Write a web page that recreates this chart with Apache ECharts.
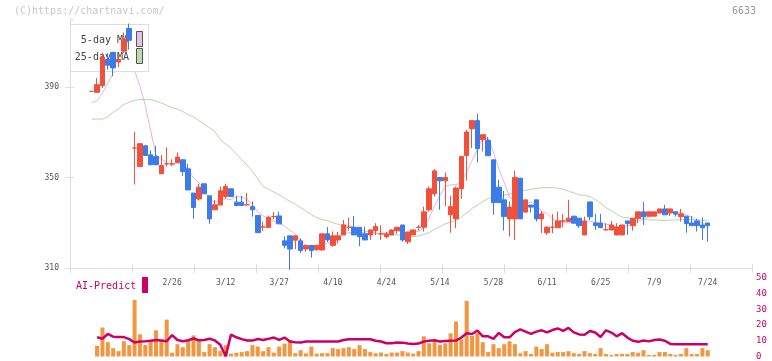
<!DOCTYPE html>
<html>
<head>
<meta charset="utf-8">
<script src="https://cdn.jsdelivr.net/npm/echarts@6/dist/echarts.min.js"></script>
<style>
  html, body { margin: 0; padding: 0; background: #fff; }
  #chart { width: 772px; height: 361px; }
</style>
</head>
<body>
<div id="chart"></div>
<script>
// daily candles, oldest first
const opens = [388.0, 387.6, 390.6, 402.1, 405.3, 401.0, 405.8, 415.8, 363.0, 354.8,
  364.0, 360.0, 359.3, 351.6, 356.0, 356.0, 356.6, 357.8, 353.8, 343.1,
  340.5, 347.2, 341.9, 335.7, 337.8, 341.6, 345.0, 339.1, 339.1, 337.9,
  337.1, 333.2, 328.1, 327.9, 332.7, 333.0, 322.0, 324.2, 322.3, 322.0,
  318.4, 320.0, 318.2, 318.0, 325.1, 320.0, 322.4, 324.6, 328.0, 328.0,
  328.0, 325.1, 324.6, 326.5, 325.1, 323.8, 324.6, 326.5, 329.0, 321.6,
  324.6, 328.0, 328.0, 335.7, 342.8, 350.0, 348.5, 333.5, 331.7, 345.0,
  359.7, 371.5, 375.1, 366.7, 366.4, 357.8, 345.7, 340.1, 331.7, 331.7,
  349.7, 334.7, 337.8, 340.1, 331.7, 325.6, 328.0, 327.8, 330.8, 330.5,
  332.9, 332.0, 324.6, 339.2, 329.9, 329.9, 326.9, 326.8, 324.6, 324.6,
  330.8, 328.7, 332.0, 334.8, 332.9, 332.9, 334.3, 336.1, 334.3, 334.8,
  332.7, 332.9, 329.9, 330.8, 329.0, 329.9];
const closes = [388.0, 391.0, 403.2, 399.6, 398.4, 402.1, 411.0, 410.6, 363.0, 364.9,
  359.7, 355.6, 355.6, 355.3, 356.0, 356.0, 359.0, 352.6, 344.5, 336.7,
  345.7, 342.8, 331.7, 337.9, 344.1, 346.0, 341.6, 337.6, 337.6, 337.9,
  335.7, 325.6, 328.1, 332.4, 332.7, 329.5, 320.0, 318.4, 324.2, 317.7,
  320.0, 317.7, 320.0, 325.1, 322.4, 324.2, 324.2, 329.0, 328.0, 324.6,
  323.8, 322.4, 326.8, 328.3, 325.1, 325.1, 326.8, 328.0, 322.4, 325.9,
  326.8, 328.0, 334.8, 345.0, 352.9, 348.5, 350.0, 337.1, 345.3, 359.3,
  370.1, 375.1, 362.7, 368.9, 359.6, 338.9, 338.9, 332.7, 336.9, 350.0,
  331.7, 340.1, 336.9, 331.7, 333.9, 328.0, 328.0, 330.8, 330.8, 332.0,
  329.8, 328.7, 330.8, 332.6, 328.7, 327.8, 326.9, 329.0, 328.1, 329.0,
  329.6, 332.0, 334.8, 332.6, 334.8, 334.8, 336.1, 333.5, 336.1, 333.8,
  333.9, 329.6, 328.7, 328.7, 327.8, 328.7];
const lows = [388.0, 387.6, 389.5, 397.6, 394.7, 398.7, 405.0, 406.5, 346.9, 354.8,
  359.7, 355.6, 355.6, 351.6, 354.8, 355.0, 356.6, 350.7, 344.5, 331.8,
  339.8, 342.8, 329.5, 335.7, 337.8, 340.7, 341.6, 337.2, 337.6, 337.6,
  332.7, 325.6, 326.4, 327.9, 331.6, 329.5, 318.7, 309.2, 318.4, 316.6,
  317.2, 314.6, 317.6, 317.6, 321.5, 319.4, 320.9, 324.6, 326.5, 324.6,
  319.7, 322.4, 322.4, 324.6, 322.4, 323.1, 324.6, 325.1, 321.6, 320.6,
  324.6, 326.5, 326.1, 334.9, 341.6, 335.7, 337.4, 325.6, 327.6, 340.5,
  348.6, 363.0, 356.6, 361.5, 359.6, 333.5, 338.9, 326.5, 323.9, 322.4,
  331.7, 334.7, 334.5, 330.5, 325.4, 324.6, 325.4, 327.8, 328.0, 330.5,
  329.8, 327.8, 324.6, 331.2, 326.8, 327.8, 326.5, 326.8, 324.6, 324.6,
  324.6, 326.5, 329.8, 329.0, 332.9, 332.9, 334.3, 333.5, 333.0, 332.7,
  330.5, 325.6, 328.7, 326.1, 322.4, 321.6];
const highs = [388.0, 394.0, 405.0, 405.0, 405.3, 404.3, 414.0, 418.0, 370.2, 365.0,
  364.0, 361.9, 364.0, 360.0, 363.3, 358.0, 361.0, 358.0, 356.0, 343.1,
  347.2, 347.2, 342.0, 340.1, 346.0, 347.2, 345.0, 341.9, 341.9, 343.1,
  339.4, 333.2, 330.5, 333.0, 334.7, 334.9, 323.9, 324.2, 324.2, 323.1,
  320.0, 320.0, 320.0, 325.1, 328.1, 326.1, 325.9, 331.2, 332.3, 333.0,
  328.0, 328.3, 327.0, 329.8, 328.9, 325.9, 327.0, 328.0, 329.0, 326.0,
  327.0, 329.0, 337.1, 346.0, 353.7, 350.0, 352.2, 341.9, 346.0, 359.3,
  371.1, 375.1, 378.2, 368.9, 367.9, 357.8, 349.0, 344.1, 339.4, 353.0,
  349.7, 340.1, 337.8, 340.1, 335.2, 328.6, 333.8, 334.9, 333.8, 340.1,
  333.0, 332.0, 332.7, 339.2, 333.9, 333.9, 329.8, 330.8, 329.8, 329.0,
  330.8, 332.0, 334.8, 339.2, 334.8, 334.8, 336.1, 337.9, 336.1, 334.8,
  336.1, 332.9, 332.9, 331.8, 332.3, 329.9];

// moving averages before enough candles are on screen
const ma5Head = [383.0, 383.9, 387.2, 391.5];
const ma25Head = [375.7, 375.8, 375.8, 376.8, 378.7, 380.3, 382.2, 383.3, 384.1, 384.4,
  384.4, 384.4, 383.7, 382.9, 381.9, 380.8, 380.2, 379.1, 377.7, 376.8,
  375.1, 373.5, 372.0, 370.2];

// lower panel
const volumes = [null, 6.8, 18.4, 9.1, 5.3, 3.4, 9.7, 7.2, 35.9, 14.1,
  7.4, 10.5, 16.6, 10.5, 23.4, 2.4, 7.8, 5.9, 10.5, 13.4,
  10.5, 2.8, 7.8, 5.9, 3.4, 7.2, 1.8, 2.4, 2.8, 3.4,
  7.2, 6.3, 3.4, 5.9, 2.4, 6.3, 8.2, 10.5, 2.1, 4.0,
  2.0, 6.3, 1.8, 2.1, 2.1, 5.3, 4.7, 5.3, 5.9, 4.7,
  7.2, 4.7, 2.8, 2.1, 2.5, 1.6, 2.5, 2.5, 3.4, 2.5,
  1.8, 3.4, 12.8, 8.4, 10.1, 7.4, 8.4, 14.7, 22.2, 10.7,
  35.3, 13.0, 15.1, 9.1, 2.8, 7.8, 5.3, 7.8, 9.7, 7.8,
  2.1, 3.4, 1.6, 6.3, 4.7, 7.8, 2.4, 2.8, 2.8, 3.4,
  2.1, 1.6, 3.4, 2.1, 1.6, 5.3, 1.6, 1.0, 1.6, 1.6,
  1.6, 2.8, 2.4, 4.0, 1.0, 1.0, 2.8, 2.8, 1.6, 1.0,
  1.6, 5.3, 1.6, 1.6, 5.3, 4.0];
const aiPredict = [null, 12.2, 11.3, 14.3, 12.6, 12.3, 12.3, 11.0, 8.9, 9.5,
  9.7, 10.0, 10.5, 10.2, 9.7, 13.6, 10.5, 9.7, 10.3, 11.4,
  10.3, 10.5, 11.3, 10.2, 7.5, 0.1, 13.9, 12.2, 11.0, 10.1,
  10.1, 11.1, 10.5, 11.2, 12.0, 10.5, 12.0, 9.5, 9.0, 8.9,
  9.5, 9.5, 9.5, 9.5, 9.5, 9.5, 9.5, 10.5, 10.9, 10.9,
  10.9, 10.9, 10.9, 10.0, 9.5, 8.4, 8.4, 8.9, 8.8, 8.2,
  7.9, 8.2, 9.5, 10.0, 10.3, 9.5, 9.9, 10.0, 10.1, 12.0,
  14.7, 14.3, 16.5, 12.8, 12.8, 11.2, 15.0, 12.2, 12.2, 15.5,
  17.2, 15.8, 14.4, 15.8, 16.6, 15.3, 16.8, 17.8, 16.3, 18.1,
  15.3, 14.0, 13.8, 16.2, 15.2, 12.4, 16.6, 15.2, 12.8, 14.8,
  12.0, 10.0, 9.3, 10.1, 9.6, 10.5, 10.8, 10.0, 8.0, 7.8,
  7.8, 7.8, 7.8, 7.8, 7.8, 7.8];

// date labels, one every 10 sessions starting at session 15
const dateLabels = ['2/26', '3/12', '3/27', '4/10', '4/24', '5/14', '5/28', '6/11', '6/25', '7/9', '7/24'];
const firstLabelAt = 15;
const labelStep = 10;

const LEAD = 4;      // empty slots before the first candle
const SLOTS = 128;   // whole axis incl. empty future slots

const RED = '#f0503c', BLUE = '#3d7be8';
const PINK = '#e6b2e6', GREEN = '#b2d9a6';
const CRIMSON = '#cc0066', ORANGE = '#f2963f';
const MONO = 'DejaVu Sans Mono';

function pad(arr) {
  const out = new Array(SLOTS).fill(null);
  arr.forEach((v, i) => { out[i + LEAD] = v; });
  return out;
}

function movingAvg(n, head) {
  return closes.map((c, i) => {
    if (i < n - 1) return head[i];
    let s = 0;
    for (let k = i - n + 1; k <= i; k++) s += closes[k];
    return +(s / n).toFixed(2);
  });
}

const cats = [];
for (let k = 0; k < SLOTS; k++) cats.push('');
dateLabels.forEach((d, j) => { cats[LEAD + firstLabelAt + j * labelStep] = d; });

const candles = new Array(SLOTS).fill('-');
opens.forEach((o, i) => {
  const item = { value: [o, closes[i], lows[i], highs[i]] };
  if (o === closes[i]) {
    item.itemStyle = { color: RED, color0: RED, borderColor: RED, borderColor0: RED };
  }
  candles[i + LEAD] = item;
});

const chart = echarts.init(document.getElementById('chart'), null, { renderer: 'canvas' });

const gMain = { left: 70.3, right: 21.4, top: 19, bottom: 93 };
const gFrame = { left: 70, right: 20, top: 19, bottom: 93 };

const option = {
  animation: false,
  backgroundColor: '#fff',
  grid: [
    gMain,
    gFrame,
    gFrame,
    { left: 70.3, right: 21.4, top: 277.7, bottom: 3 }
  ],
  xAxis: [
    {
      gridIndex: 0, type: 'category', data: cats, boundaryGap: false,
      axisLine: { show: false }, axisTick: { show: false },
      axisLabel: {
        interval: (idx, val) => val !== '',
        margin: 11, fontSize: 8, color: '#555', fontFamily: MONO
      }
    },
    {
      gridIndex: 1, type: 'value', min: 0, max: 11, interval: 1,
      axisLine: { lineStyle: { color: '#ddd' } },
      axisTick: { length: 5, lineStyle: { color: '#ddd' } },
      axisLabel: { show: false }, splitLine: { show: false }
    },
    {
      gridIndex: 2, type: 'value', min: 0, max: 11, interval: 1,
      axisLine: { show: false },
      axisTick: { inside: true, length: 4, lineStyle: { color: '#ddd' } },
      axisLabel: { show: false }, splitLine: { show: false }
    },
    {
      gridIndex: 3, type: 'category', data: cats, boundaryGap: false, show: false
    }
  ],
  yAxis: [
    { gridIndex: 0, type: 'value', min: 310, max: 420, show: false },
    {
      gridIndex: 1, type: 'value', min: 310, max: 420, interval: 40,
      axisLine: { show: true, lineStyle: { color: '#ddd' } },
      axisTick: { show: true, length: 5, lineStyle: { color: '#ddd' } },
      axisLabel: { margin: 11, fontSize: 8, color: '#555', fontFamily: MONO, showMaxLabel: false },
      splitLine: { show: false }
    },
    {
      gridIndex: 2, type: 'value', min: 310, max: 420, interval: 40,
      axisLine: { show: false },
      axisTick: { show: true, inside: true, length: 4, lineStyle: { color: '#ddd' } },
      axisLabel: { show: false }, splitLine: { show: false }
    },
    {
      gridIndex: 3, type: 'value', min: 0, max: 50, interval: 10, position: 'right',
      axisLine: { show: false }, axisTick: { show: false },
      axisLabel: { margin: 5.5, fontSize: 9, color: CRIMSON, fontFamily: MONO },
      splitLine: { show: false }
    }
  ],
  graphic: [
    { type: 'text', left: 14, top: 6, z: 2,
      style: { text: '(C)https://chartnavi.com/', font: '10px ' + MONO, fill: '#c8c8c8' } },
    { type: 'text', right: 16, top: 6, z: 2,
      style: { text: '6633', font: '10px ' + MONO, fill: '#999' } },
    { type: 'rect', z: 2, shape: { x: 70.5, y: 24.5, width: 78, height: 47 },
      style: { fill: '#fff', stroke: '#ddd', lineWidth: 1 } },
    { type: 'text', z: 2, x: 129, y: 40,
      style: { text: '5-day MA', font: '10px ' + MONO, fill: '#444', align: 'right', verticalAlign: 'middle' } },
    { type: 'text', z: 2, x: 129, y: 57,
      style: { text: '25-day MA', font: '10px ' + MONO, fill: '#444', align: 'right', verticalAlign: 'middle' } },
    { type: 'rect', z: 2, shape: { x: 136.5, y: 31.5, width: 6, height: 15 },
      style: { fill: '#e8bfe8', stroke: '#555', lineWidth: 1 } },
    { type: 'rect', z: 2, shape: { x: 136.5, y: 48.5, width: 6, height: 15 },
      style: { fill: '#bcdcb0', stroke: '#555', lineWidth: 1 } },
    { type: 'text', z: 2, x: 76, y: 286,
      style: { text: 'AI-Predict', font: '10px ' + MONO, fill: CRIMSON, verticalAlign: 'middle' } },
    { type: 'rect', z: 2, shape: { x: 142, y: 277, width: 6, height: 16 },
      style: { fill: CRIMSON } }
  ],
  series: [
    {
      type: 'line', xAxisIndex: 0, yAxisIndex: 0, z: 1,
      data: pad(movingAvg(25, ma25Head)), showSymbol: false, symbol: 'none',
      lineStyle: { color: GREEN, width: 1 }
    },
    {
      type: 'line', xAxisIndex: 0, yAxisIndex: 0, z: 1,
      data: pad(movingAvg(5, ma5Head)), showSymbol: false, symbol: 'none',
      lineStyle: { color: PINK, width: 1 }
    },
    {
      type: 'candlestick', xAxisIndex: 0, yAxisIndex: 0, z: 3,
      barWidth: 5, clip: false,
      data: candles,
      itemStyle: { color: RED, color0: BLUE, borderColor: RED, borderColor0: BLUE, borderWidth: 1 }
    },
    {
      type: 'bar', xAxisIndex: 3, yAxisIndex: 3, z: 2,
      data: pad(volumes), barWidth: 4,
      itemStyle: { color: ORANGE }
    },
    {
      type: 'line', xAxisIndex: 3, yAxisIndex: 3, z: 3,
      data: pad(aiPredict), showSymbol: false, symbol: 'none',
      lineStyle: { color: CRIMSON, width: 2.5 }
    }
  ]
};

chart.setOption(option);
</script>
</body>
</html>
